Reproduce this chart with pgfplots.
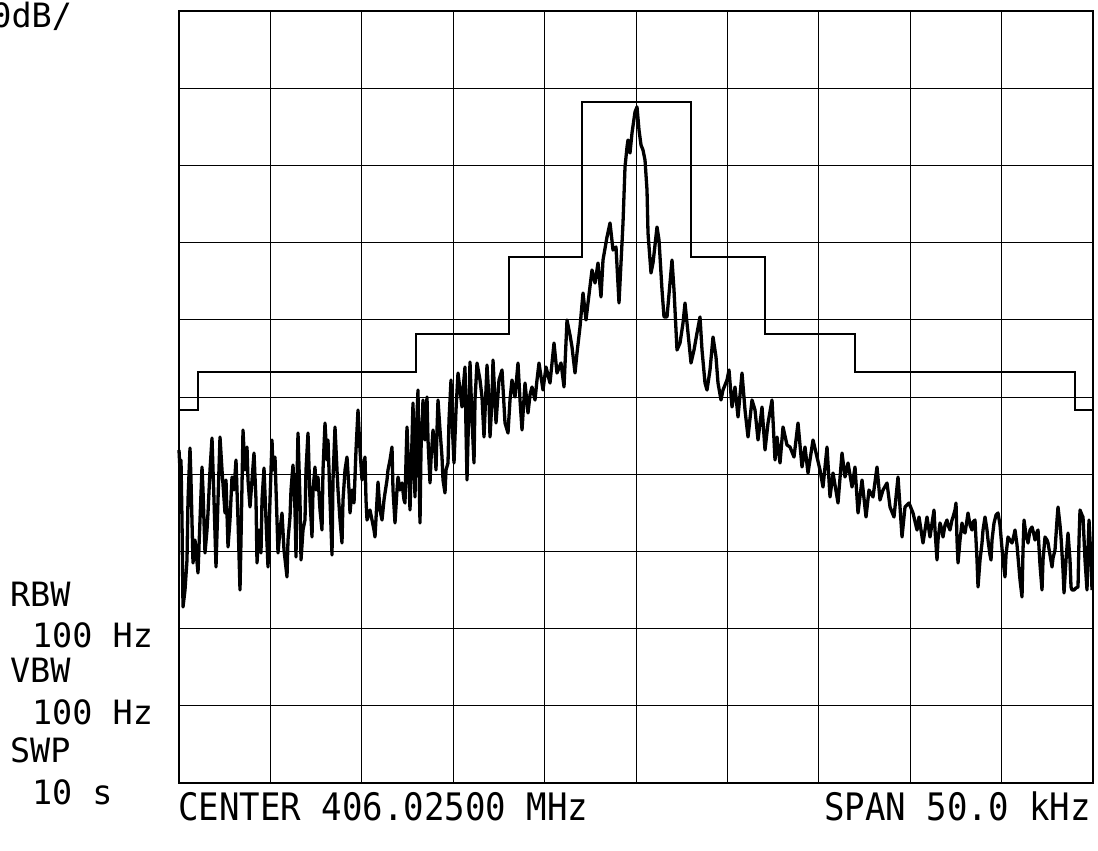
\documentclass[border=0pt]{standalone}
\usepackage{pgfplots}
\pgfplotsset{compat=1.18}
\usepackage{fontspec}
\newfontfamily\hp{DejaVu Sans Mono}
\begin{document}
\begin{tikzpicture}
\path[use as bounding box] (0bp,0bp) rectangle (1098bp,851bp);
\begin{axis}[at={(179bp,68bp)}, anchor=south west, scale only axis,
  width=914bp, height=772bp,
  xmin=179, xmax=1093, ymin=11, ymax=783, y dir=reverse,
  xtick={179,270.4,361.8,453.2,544.6,636,727.4,818.8,910.2,1001.6,1093},
  ytick={11,88.2,165.4,242.6,319.8,397,474.2,551.4,628.6,705.8,783},
  xticklabels={}, yticklabels={}, major tick length=0pt,
  grid=major, grid style={black, line width=0.9bp},
  axis line style={black, line width=1.5bp},
  clip=false]
% limit mask (pixel coordinates of the screen)
\addplot[black, line width=2.2bp, line join=miter] coordinates {
(179,410) (198,410) (198,372) (416,372) (416,334) (509,334) (509,257) (582,257)
(582,102) (691,102) (691,257) (765,257) (765,334) (855,334) (855,372) (1075,372)
(1075,410) (1093,410)};
% measured trace
\addplot[black, line width=3.3bp, line join=round] coordinates {
(179,450) (180,470) (181,460) (182,520) (183,607) (185,590) (187,560) (188,500)
(190,448) (191,480) (193,563) (195,540) (198,573) (200,520) (202,467) (203,490)
(205,553) (207,530) (208,513) (210,470) (212,438) (214,500) (216,567) (218,500)
(220,437) (222,470) (225,513) (226,480) (228,547) (230,520) (232,477) (234,490)
(236,460) (238,520) (240,590) (241,540) (243,430) (245,470) (247,447) (248,480)
(250,507) (252,480) (254,453) (256,500) (257,563) (259,530) (261,553) (262,500)
(264,468) (266,520) (268,567) (270,500) (272,440) (273,470) (275,457) (277,520)
(278,553) (280,530) (282,513) (284,550) (287,577) (288,540) (290,517) (291,490)
(293,465) (295,510) (296,557) (297,480) (298,433) (300,500) (301,560) (303,530)
(305,520) (306,470) (308,433) (310,500) (312,537) (313,490) (315,467) (316,490)
(318,477) (320,510) (322,530) (323,470) (325,423) (327,460) (328,440) (330,500)
(332,555) (333,480) (335,427) (337,470) (338,490) (340,520) (342,543) (343,500)
(345,470) (347,457) (349,490) (350,513) (352,490) (354,503) (356,450) (358,410)
(360,450) (362,480) (363,470) (365,457) (366,500) (367,520) (370,510) (372,520)
(374,530) (375,537) (377,500) (378,482) (380,510) (382,520) (384,500) (385,493)
(387,480) (388,470) (390,460) (392,447) (393,490) (395,523) (397,490) (398,477)
(400,490) (402,483) (404,500) (405,503) (406,460) (407,427) (409,480) (410,510)
(412,440) (413,403) (414,460) (415,497) (416,440) (418,390) (419,470) (420,523)
(421,450) (423,400) (425,440) (427,397) (428,440) (430,483) (431,460) (433,430)
(435,450) (436,470) (437,430) (438,400) (440,430) (442,457) (443,480) (445,493)
(446,470) (448,463) (449,420) (451,380) (452,420) (454,463) (456,410) (458,373)
(460,390) (462,407) (463,390) (465,367) (466,430) (467,480) (469,400) (470,362)
(472,420) (474,463) (475,400) (477,363) (480,380) (482,397) (484,437) (487,365)
(489,400) (490,437) (492,400) (493,360) (495,400) (496,423) (499,380) (502,370)
(505,423) (508,433) (510,400) (512,380) (515,397) (518,363) (520,400) (522,430)
(525,383) (528,413) (530,395) (532,387) (535,400) (537,380) (539,363) (543,390)
(546,367) (550,383) (554,343) (557,373) (561,363) (564,387) (567,320) (570,335)
(572,347) (575,373) (577,353) (580,327) (583,293) (586,320) (588,303) (592,270)
(595,283) (598,263) (601,297) (603,260) (607,237) (610,223) (613,250) (616,247)
(619,303) (623,223) (625,167) (627,147) (628,140) (630,153) (632,133) (635,112)
(637,107) (639,130) (641,145) (643,150) (645,160) (647,190) (648,233) (651,273)
(653,263) (657,227) (659,240) (662,290) (664,317) (667,317) (672,260) (674,290)
(677,350) (680,343) (683,323) (685,303) (688,333) (691,363) (694,350) (697,333)
(700,317) (702,350) (705,383) (707,390) (710,370) (713,337) (716,357) (718,383)
(721,400) (723,390) (727,380) (729,370) (732,407) (735,387) (738,417) (742,373)
(745,410) (748,437) (752,400) (755,410) (758,440) (762,407) (765,450) (768,423)
(772,400) (775,460) (777,437) (780,463) (783,427) (787,445) (790,447) (794,457)
(798,423) (802,467) (805,447) (808,473) (813,440) (817,457) (820,470) (823,487)
(827,447) (830,497) (833,473) (838,503) (842,453) (845,477) (848,463) (852,487)
(855,467) (858,513) (862,480) (866,517) (869,490) (873,497) (877,467) (880,500)
(883,490) (887,483) (890,507) (894,517) (898,477) (902,537) (905,507) (909,503)
(913,513) (917,530) (919,517) (923,543) (927,517) (930,537) (934,510) (935,530)
(937,560) (938,540) (940,523) (942,530) (943,537) (945,525) (947,520) (948,525)
(950,530) (952,520) (953,517) (955,510) (956,503) (957,540) (958,563) (960,540)
(962,523) (963,530) (965,533) (967,520) (968,513) (970,525) (972,530) (973,522)
(975,520) (977,560) (978,587) (980,560) (982,543) (983,530) (985,517) (987,530)
(988,540) (990,555) (991,560) (992,540) (994,523) (996,515) (998,513) (1000,525)
(1001,537) (1003,560) (1005,577) (1006,555) (1008,537) (1010,540) (1012,543) (1014,535)
(1015,530) (1017,545) (1018,557) (1020,580) (1022,597) (1023,550) (1024,520) (1026,535)
(1028,543) (1030,530) (1032,527) (1034,535) (1035,540) (1037,532) (1038,530) (1040,565)
(1042,590) (1043,560) (1045,537) (1047,540) (1048,543) (1050,555) (1052,567) (1053,558)
(1055,550) (1057,520) (1058,507) (1060,525) (1061,537) (1063,570) (1064,593) (1066,560)
(1068,533) (1070,560) (1071,587) (1072,590) (1074,590) (1076,588) (1078,587) (1079,540)
(1080,510) (1082,515) (1083,517) (1085,560) (1087,590) (1088,550) (1089,520) (1091,560)
(1092,590)};
\end{axis}
\begin{scope}[every node/.style={inner sep=0pt, outer sep=0pt}]
\node[anchor=base east] at (72bp,823bp) {\hp\fontsize{33.6}{40}\selectfont 10dB/};
\node[anchor=base west] at (10bp,244bp) {\hp\fontsize{33.6}{40}\selectfont RBW};
\node[anchor=base west] at (32bp,203bp) {\hp\fontsize{33.6}{40}\selectfont 100 Hz};
\node[anchor=base west] at (10bp,168bp) {\hp\fontsize{33.6}{40}\selectfont VBW};
\node[anchor=base west] at (32bp,126bp) {\hp\fontsize{33.6}{40}\selectfont 100 Hz};
\node[anchor=base west] at (10bp,88bp) {\hp\fontsize{33.6}{40}\selectfont SWP};
\node[anchor=base west] at (32bp,46bp) {\hp\fontsize{33.6}{40}\selectfont 10 s};
\node[anchor=base west] at (178bp,31bp) {\hp\fontsize{38}{44}\selectfont\scalebox{0.9}[1]{CENTER 406.02500 MHz}};
\node[anchor=base east] at (1091bp,31bp) {\hp\fontsize{38}{44}\selectfont\scalebox{0.9}[1]{SPAN 50.0 kHz}};
\end{scope}
\end{tikzpicture}
\end{document}
